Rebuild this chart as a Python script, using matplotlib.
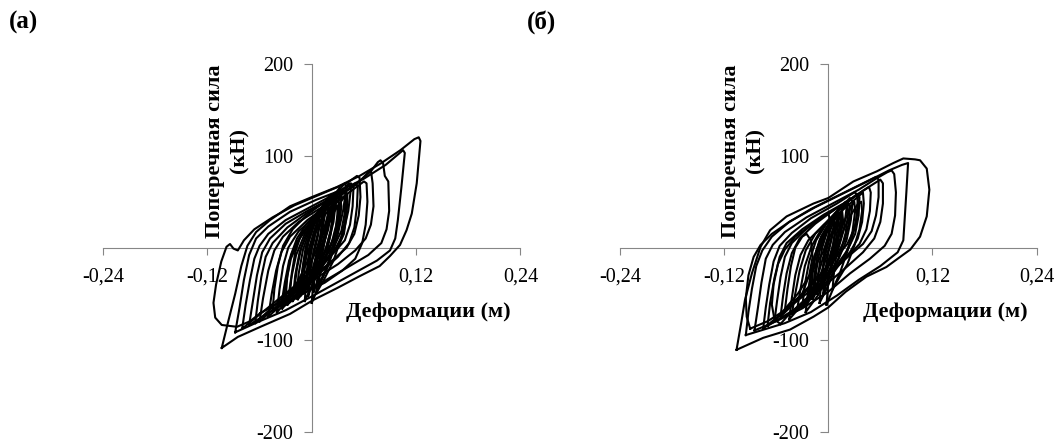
import matplotlib
matplotlib.use('Agg')
import matplotlib.pyplot as plt

plt.rcParams['font.family'] = ['Liberation Serif', 'DejaVu Serif']

# ticks and labels
x_ticks = [-0.24, -0.12, 0.12, 0.24]
x_tick_labels = ['-0,24', '-0,12', '0,12', '0,24']
y_ticks = [-200, -100, 100, 200]
y_tick_labels = ['-200', '-100', '100', '200']
panel_names = ['(а)', '(б)']
x_label = 'Деформации (м)'
y_label = 'Поперечная сила\n(кН)'

# hysteresis loops: (deformation m, force kN)
loops_a = [
    [(-0.1035, -109), (-0.096, -80), (-0.088, -50), (-0.081, -20), (-0.074, 2), (-0.064, 17),
     (-0.048, 30), (-0.025, 45), (0.000, 55), (0.029, 66), (0.055, 78), (0.080, 92),
     (0.102, 106), (0.118, 118), (0.123, 120), (0.125, 116), (0.1207, 70), (0.115, 37),
     (0.109, 19), (0.1015, 3), (0.090, -9), (0.078, -20), (0.055, -31), (0.029, -44),
     (0.0015, -57), (-0.025, -72), (-0.059, -86), (-0.085, -97), (-0.1035, -109)],
    [(-0.088, -92), (-0.083, -65), (-0.078, -35), (-0.072, -8), (-0.064, 10), (-0.050, 23),
     (-0.025, 39), (0.005, 52), (0.035, 63), (0.060, 75), (0.085, 90), (0.100, 102),
     (0.105, 106), (0.107, 103), (0.103, 65), (0.099, 30), (0.096, 10), (0.090, -3),
     (0.075, -14), (0.050, -27), (0.025, -40), (0.000, -53), (-0.030, -68), (-0.060, -80),
     (-0.088, -92)],
    [(-0.072, -84), (-0.068, -60), (-0.063, -30), (-0.057, -5), (-0.048, 10), (-0.030, 26),
     (-0.005, 40), (0.025, 55), (0.050, 68), (0.068, 83), (0.076, 93), (0.079, 95),
     (0.082, 92), (0.084, 78), (0.088, 72), (0.089, 40), (0.086, 20), (0.080, 5),
     (0.065, -8), (0.040, -22), (0.015, -36), (-0.010, -50), (-0.040, -65), (-0.072, -84)],
    [(-0.060, -80), (-0.056, -55), (-0.050, -25), (-0.043, -3), (-0.033, 12), (-0.015, 28),
     (0.010, 43), (0.035, 58), (0.055, 72), (0.065, 82), (0.068, 84), (0.070, 70),
     (0.071, 45), (0.068, 25), (0.062, 10), (0.050, -3), (0.030, -18), (0.005, -33),
     (-0.025, -52), (-0.060, -80)],
    [(-0.059, -71), (-0.071, -80), (-0.086, -86), (-0.1035, -84), (-0.111, -76), (-0.113, -60),
     (-0.110, -40), (-0.104, -15), (-0.098, 1), (-0.094, 4), (-0.090, -1), (-0.085, -3),
     (-0.078, 8), (-0.066, 20), (-0.045, 33), (-0.020, 46), (0.010, 58), (0.040, 70),
     (0.052, 78), (0.055, 76), (0.056, 55), (0.054, 35), (0.049, 15), (0.040, 0),
     (0.020, -17), (0.000, -32), (-0.030, -55), (-0.045, -64), (-0.059, -71)],
    [(-0.080, -88), (-0.076, -62), (-0.071, -35), (-0.066, -12), (-0.060, 2), (-0.050, 15),
     (-0.030, 30), (0.000, 45), (0.030, 60), (0.045, 70), (0.048, 66), (0.047, 45),
     (0.044, 25), (0.038, 8), (0.025, -6), (0.005, -22), (-0.020, -42), (-0.050, -65),
     (-0.080, -88)],
    [(-0.050, -75), (-0.046, -50), (-0.041, -25), (-0.035, -5), (-0.025, 12), (-0.005, 30),
     (0.020, 47), (0.040, 62), (0.050, 70), (0.053, 67), (0.052, 45), (0.049, 22),
     (0.043, 5), (0.030, -10), (0.010, -27), (-0.015, -45), (-0.050, -75)],
    [(-0.040, -70), (-0.037, -45), (-0.033, -20), (-0.027, 0), (-0.015, 18), (0.005, 35),
     (0.025, 50), (0.038, 62), (0.041, 58), (0.040, 35), (0.037, 15), (0.030, 0),
     (0.015, -15), (-0.005, -35), (-0.040, -70)],
    [(-0.045, -68), (-0.043, -45), (-0.039, -20), (-0.033, 2), (-0.022, 20), (-0.005, 36),
     (0.015, 50), (0.030, 60), (0.034, 58), (0.033, 38), (0.029, 18), (0.021, 2),
     (0.008, -15), (-0.012, -38), (-0.045, -68)],
    [(-0.065, -82), (-0.062, -58), (-0.058, -32), (-0.053, -10), (-0.045, 5), (-0.028, 22),
     (-0.005, 38), (0.020, 52), (0.036, 62), (0.039, 58), (0.038, 38), (0.034, 18),
     (0.026, 2), (0.010, -15), (-0.015, -38), (-0.040, -60), (-0.065, -82)],
    [(-0.035, -62), (-0.031, -38), (-0.026, -14), (-0.018, 5), (-0.005, 22), (0.015, 40),
     (0.040, 58), (0.060, 72), (0.063, 70), (0.064, 50), (0.062, 25), (0.058, 5),
     (0.050, -12), (0.035, -25), (0.015, -38), (-0.010, -50), (-0.035, -62)],
    # dense core
    [(-0.028, -62), (-0.024, -35), (-0.018, -8), (-0.008, 15), (0.008, 35), (0.025, 55),
     (0.038, 70), (0.040, 66), (0.036, 40), (0.030, 15), (0.020, -8), (0.005, -30),
     (-0.012, -48), (-0.028, -62)],
    [(-0.022, -58), (-0.019, -30), (-0.014, -5), (-0.005, 18), (0.010, 38), (0.024, 55),
     (0.032, 65), (0.034, 60), (0.031, 35), (0.025, 10), (0.015, -12), (0.002, -32),
     (-0.010, -46), (-0.022, -58)],
    [(-0.018, -55), (-0.015, -28), (-0.010, -2), (-0.002, 20), (0.010, 40), (0.022, 56),
     (0.027, 60), (0.028, 52), (0.025, 28), (0.019, 5), (0.010, -15), (-0.002, -35),
     (-0.018, -55)],
    [(-0.013, -52), (-0.011, -25), (-0.007, 0), (0.000, 22), (0.010, 42), (0.019, 55),
     (0.023, 58), (0.023, 45), (0.019, 20), (0.012, 0), (0.004, -20), (-0.005, -38),
     (-0.013, -52)],
    [(-0.010, -48), (-0.008, -20), (-0.004, 5), (0.003, 25), (0.011, 42), (0.018, 52),
     (0.019, 40), (0.015, 15), (0.009, -5), (0.002, -25), (-0.010, -48)],
    [(-0.006, -45), (-0.005, -20), (-0.002, 3), (0.004, 22), (0.010, 38), (0.015, 48),
     (0.015, 35), (0.011, 12), (0.006, -8), (0.000, -28), (-0.006, -45)],
    [(-0.034, -66), (-0.030, -40), (-0.024, -12), (-0.014, 10), (0.000, 28), (0.018, 48),
     (0.035, 62), (0.043, 70), (0.045, 64), (0.042, 40), (0.036, 15), (0.025, -5),
     (0.008, -25), (-0.012, -45), (-0.034, -66)],
    [(-0.003, -40), (-0.002, -15), (0.001, 8), (0.006, 25), (0.011, 38), (0.012, 28),
     (0.009, 8), (0.004, -12), (-0.003, -40)],
    [(-0.016, -56), (-0.012, -32), (-0.006, -8), (0.003, 14), (0.014, 34), (0.026, 50),
     (0.030, 56), (0.031, 48), (0.028, 24), (0.022, 2), (0.012, -20), (-0.002, -40),
     (-0.016, -56)],
    [(-0.025, -50), (-0.023, -28), (-0.019, -5), (-0.012, 15), (0.000, 30), (0.005, 34),
     (0.006, 25), (0.002, 5), (-0.005, -15), (-0.015, -35), (-0.025, -50)],
    [(-0.020, -45), (-0.017, -22), (-0.012, 0), (-0.004, 18), (0.008, 35), (0.020, 48),
     (0.024, 50), (0.025, 40), (0.022, 18), (0.016, -2), (0.006, -22), (-0.006, -35),
     (-0.020, -45)],
    [(-0.008, -58), (-0.006, -30), (-0.002, -5), (0.005, 18), (0.014, 38), (0.022, 52),
     (0.026, 57), (0.026, 45), (0.022, 20), (0.016, -2), (0.008, -25), (0.000, -42),
     (-0.008, -58)],
    [(0.000, -60), (0.002, -35), (0.006, -10), (0.012, 12), (0.020, 32), (0.028, 48),
     (0.033, 55), (0.034, 45), (0.031, 22), (0.026, 0), (0.018, -22), (0.008, -42),
     (0.000, -60)],
    [(-0.030, -55), (-0.028, -30), (-0.024, -8), (-0.017, 10), (-0.006, 26), (0.008, 40),
     (0.012, 42), (0.013, 32), (0.010, 12), (0.004, -6), (-0.006, -25), (-0.016, -40),
     (-0.030, -55)],
    [(0.005, -50), (0.007, -25), (0.011, -2), (0.017, 20), (0.025, 38), (0.035, 52),
     (0.040, 58), (0.041, 50), (0.038, 28), (0.033, 8), (0.025, -14), (0.015, -33),
     (0.005, -50)],
    [(-0.004, -52), (-0.002, -28), (0.002, -4), (0.007, 16), (0.013, 34), (0.018, 46),
     (0.020, 38), (0.017, 16), (0.012, -6), (0.005, -28), (-0.004, -52)],
    [(0.002, -48), (0.004, -24), (0.008, -2), (0.013, 18), (0.019, 36), (0.024, 48),
     (0.025, 38), (0.022, 16), (0.017, -6), (0.010, -28), (0.002, -48)],
    [(-0.012, -42), (-0.010, -20), (-0.006, 2), (0.000, 20), (0.007, 34), (0.009, 30),
     (0.007, 12), (0.002, -8), (-0.004, -26), (-0.012, -42)],
    [(0.008, -40), (0.010, -18), (0.014, 4), (0.019, 24), (0.025, 40), (0.029, 46),
     (0.030, 36), (0.027, 14), (0.022, -8), (0.015, -26), (0.008, -40)],
]

loops_b = [
    [(-0.1057, -111), (-0.100, -80), (-0.096, -57), (-0.088, -28), (-0.078, 1), (-0.067, 19),
     (-0.048, 34), (-0.017, 48), (0.000, 54), (0.029, 72), (0.056, 83), (0.075, 92),
     (0.0865, 97), (0.100, 96), (0.1058, 95), (0.1135, 86), (0.1165, 63), (0.1135, 34),
     (0.1058, 12), (0.0946, -2), (0.080, -12), (0.067, -21), (0.044, -31.5), (0.020, -48),
     (0.000, -65), (-0.017, -75), (-0.044, -89), (-0.075, -98), (-0.1057, -111)],
    [(-0.095, -95), (-0.092, -70), (-0.088, -45), (-0.083, -20), (-0.076, -3), (-0.065, 12),
     (-0.045, 28), (-0.015, 44), (0.015, 58), (0.045, 72), (0.070, 84), (0.085, 90),
     (0.092, 92), (0.090, 60), (0.088, 30), (0.0865, 8), (0.080, -5), (0.060, -20),
     (0.035, -35), (0.010, -52), (-0.020, -70), (-0.050, -82), (-0.095, -95)],
    [(-0.085, -90), (-0.081, -65), (-0.077, -38), (-0.072, -12), (-0.064, 3), (-0.050, 17),
     (-0.025, 33), (0.005, 48), (0.035, 63), (0.055, 75), (0.068, 82), (0.073, 84),
     (0.076, 80), (0.078, 60), (0.077, 35), (0.073, 15), (0.065, 2), (0.048, -12),
     (0.025, -28), (0.000, -48), (-0.030, -66), (-0.060, -80), (-0.085, -90)],
    [(-0.090, -88), (-0.094, -75), (-0.095, -55), (-0.092, -30), (-0.086, -10), (-0.078, 3),
     (-0.065, 15), (-0.045, 28), (-0.020, 42), (0.010, 56), (0.040, 70), (0.055, 77),
     (0.058, 74), (0.058, 55), (0.055, 35), (0.050, 18), (0.040, 4), (0.020, -12),
     (0.000, -28), (-0.025, -50), (-0.050, -68), (-0.070, -80), (-0.090, -88)],
    [(-0.070, -85), (-0.067, -60), (-0.062, -33), (-0.056, -10), (-0.048, 5), (-0.030, 20),
     (-0.005, 36), (0.025, 52), (0.045, 65), (0.060, 74), (0.063, 70), (0.063, 48),
     (0.060, 28), (0.053, 10), (0.040, -5), (0.020, -22), (-0.005, -42), (-0.035, -65),
     (-0.070, -85)],
    [(-0.055, -83), (-0.062, -78), (-0.065, -62), (-0.063, -40), (-0.058, -18), (-0.050, -2),
     (-0.038, 12), (-0.015, 28), (0.015, 46), (0.040, 62), (0.047, 66), (0.049, 60),
     (0.048, 40), (0.044, 20), (0.036, 4), (0.020, -12), (0.000, -30), (-0.025, -55),
     (-0.045, -72), (-0.055, -83)],
    [(-0.045, -78), (-0.042, -55), (-0.038, -30), (-0.032, -8), (-0.023, 8), (-0.005, 25),
     (0.018, 42), (0.035, 56), (0.040, 60), (0.041, 48), (0.039, 28), (0.034, 10),
     (0.025, -5), (0.008, -22), (-0.015, -45), (-0.045, -78)],
    [(-0.075, -88), (-0.072, -65), (-0.068, -40), (-0.063, -15), (-0.056, 2), (-0.042, 16),
     (-0.020, 32), (0.010, 48), (0.030, 60), (0.034, 58), (0.034, 40), (0.030, 20),
     (0.022, 4), (0.005, -15), (-0.020, -40), (-0.045, -65), (-0.075, -88)],
    [(-0.055, -75), (-0.052, -52), (-0.048, -28), (-0.042, -6), (-0.033, 10), (-0.015, 26),
     (0.008, 42), (0.022, 50), (0.025, 46), (0.024, 28), (0.019, 8), (0.010, -8),
     (-0.008, -28), (-0.030, -52), (-0.055, -75)],
    [(-0.050, -68), (-0.047, -45), (-0.043, -20), (-0.038, 0), (-0.030, 12), (-0.025, 15),
     (-0.020, 8), (-0.018, -10), (-0.022, -30), (-0.030, -50), (-0.050, -68)],
    [(-0.062, -80), (-0.059, -58), (-0.055, -32), (-0.050, -10), (-0.042, 5), (-0.028, 18),
     (-0.010, 32), (0.000, 38), (0.002, 30), (0.000, 12), (-0.006, -5), (-0.018, -25),
     (-0.035, -50), (-0.062, -80)],
    # dense core
    [(-0.030, -65), (-0.027, -40), (-0.022, -15), (-0.014, 8), (-0.002, 26), (0.013, 42),
     (0.025, 54), (0.028, 50), (0.026, 30), (0.021, 8), (0.012, -12), (-0.002, -32),
     (-0.015, -50), (-0.030, -65)],
    [(-0.024, -60), (-0.021, -35), (-0.016, -10), (-0.008, 12), (0.003, 30), (0.015, 45),
     (0.020, 50), (0.021, 42), (0.018, 20), (0.012, 0), (0.004, -20), (-0.008, -40),
     (-0.024, -60)],
    [(-0.018, -56), (-0.016, -30), (-0.012, -5), (-0.005, 15), (0.005, 32), (0.013, 44),
     (0.016, 46), (0.015, 35), (0.011, 12), (0.005, -8), (-0.003, -28), (-0.018, -56)],
    [(-0.013, -50), (-0.011, -25), (-0.007, 0), (-0.001, 18), (0.007, 32), (0.011, 38),
     (0.010, 25), (0.006, 5), (0.000, -15), (-0.013, -50)],
    [(-0.036, -68), (-0.032, -45), (-0.027, -20), (-0.019, 2), (-0.008, 20), (0.008, 38),
     (0.025, 52), (0.033, 58), (0.034, 50), (0.032, 28), (0.026, 6), (0.016, -14),
     (0.000, -35), (-0.018, -52), (-0.036, -68)],
    [(-0.008, -45), (-0.006, -20), (-0.003, 2), (0.002, 18), (0.007, 30), (0.008, 20),
     (0.005, 0), (0.000, -20), (-0.008, -45)],
    [(-0.020, -50), (-0.018, -28), (-0.014, -5), (-0.008, 12), (0.002, 26), (0.010, 35),
     (0.012, 28), (0.009, 10), (0.003, -10), (-0.007, -30), (-0.020, -50)],
    [(-0.042, -72), (-0.038, -50), (-0.033, -25), (-0.026, -3), (-0.015, 15), (0.000, 30),
     (0.018, 46), (0.032, 57), (0.036, 55), (0.035, 35), (0.031, 15), (0.022, -3),
     (0.005, -25), (-0.015, -48), (-0.042, -72)],
    [(-0.010, -60), (-0.008, -35), (-0.004, -10), (0.002, 12), (0.010, 30), (0.018, 44),
     (0.022, 48), (0.023, 38), (0.020, 16), (0.014, -5), (0.006, -28), (-0.002, -45),
     (-0.010, -60)],
    [(-0.002, -62), (0.000, -38), (0.004, -14), (0.010, 8), (0.018, 28), (0.026, 44),
     (0.030, 50), (0.031, 40), (0.028, 18), (0.022, -4), (0.014, -26), (0.005, -46),
     (-0.002, -62)],
    [(-0.026, -70), (-0.023, -45), (-0.018, -20), (-0.011, 2), (-0.001, 20), (0.012, 36),
     (0.016, 40), (0.017, 30), (0.014, 10), (0.008, -10), (-0.002, -32), (-0.012, -52),
     (-0.026, -70)],
    [(0.005, -45), (0.007, -22), (0.011, 0), (0.017, 18), (0.025, 34), (0.033, 46),
     (0.038, 50), (0.039, 40), (0.036, 20), (0.030, 2), (0.022, -18), (0.013, -32),
     (0.005, -45)],
    [(-0.016, -48), (-0.014, -26), (-0.010, -4), (-0.004, 14), (0.003, 28), (0.006, 32),
     (0.006, 22), (0.002, 4), (-0.004, -16), (-0.016, -48)],
    [(-0.006, -52), (-0.004, -28), (0.000, -6), (0.005, 14), (0.012, 30), (0.015, 36),
     (0.015, 26), (0.011, 6), (0.005, -16), (-0.006, -52)],
    [(-0.022, -55), (-0.020, -32), (-0.016, -10), (-0.010, 8), (-0.002, 22), (0.002, 26),
     (0.001, 14), (-0.004, -4), (-0.010, -24), (-0.022, -55)],
]

fig = plt.figure(figsize=(10.62, 4.46), dpi=100)
ax_a = fig.add_axes([0.0970, 0.0321, 0.3931, 0.8251])
ax_b = fig.add_axes([0.5838, 0.0321, 0.3922, 0.8251])

axis_grey = '#868686'

for ax, loops in [(ax_a, loops_a), (ax_b, loops_b)]:
    for loop in loops:
        xs = [p[0] for p in loop]
        ys = [p[1] for p in loop]
        ax.plot(xs, ys, color='black', lw=1.5, solid_joinstyle='round', zorder=3)

    ax.set_xlim(-0.24, 0.24)
    ax.set_ylim(-200, 200)
    ax.spines['top'].set_visible(False)
    ax.spines['right'].set_visible(False)
    ax.spines['left'].set_position(('data', 0))
    ax.spines['bottom'].set_position(('data', 0))
    for s in ['left', 'bottom']:
        ax.spines[s].set_color(axis_grey)
        ax.spines[s].set_linewidth(0.8)
    ax.set_xticks(x_ticks)
    ax.set_xticklabels(x_tick_labels)
    ax.set_yticks(y_ticks)
    ax.set_yticklabels(y_tick_labels)
    ax.tick_params(axis='x', direction='out', length=5, width=0.8, color=axis_grey,
                   labelsize=14.5, pad=9)
    ax.tick_params(axis='y', direction='out', length=5.5, width=0.8, color=axis_grey,
                   labelsize=14.5, pad=8)
    ax.patch.set_visible(False)

    ax.text(0.297, 0.763, y_label, transform=ax.transAxes, rotation=90,
            ha='center', va='center', multialignment='center',
            fontsize=16, fontweight='bold', linespacing=1.3, zorder=4)
    ax.text(0.780, 0.326, x_label, transform=ax.transAxes,
            ha='center', va='center', fontsize=16, fontweight='bold', zorder=4)

fig.text(24 / 1062, 1 - 22 / 446, panel_names[0], ha='center', va='center',
         fontsize=18, fontweight='bold')
fig.text(542 / 1062, 1 - 22 / 446, panel_names[1], ha='center', va='center',
         fontsize=18, fontweight='bold')

fig.savefig('out.png', dpi=100)
